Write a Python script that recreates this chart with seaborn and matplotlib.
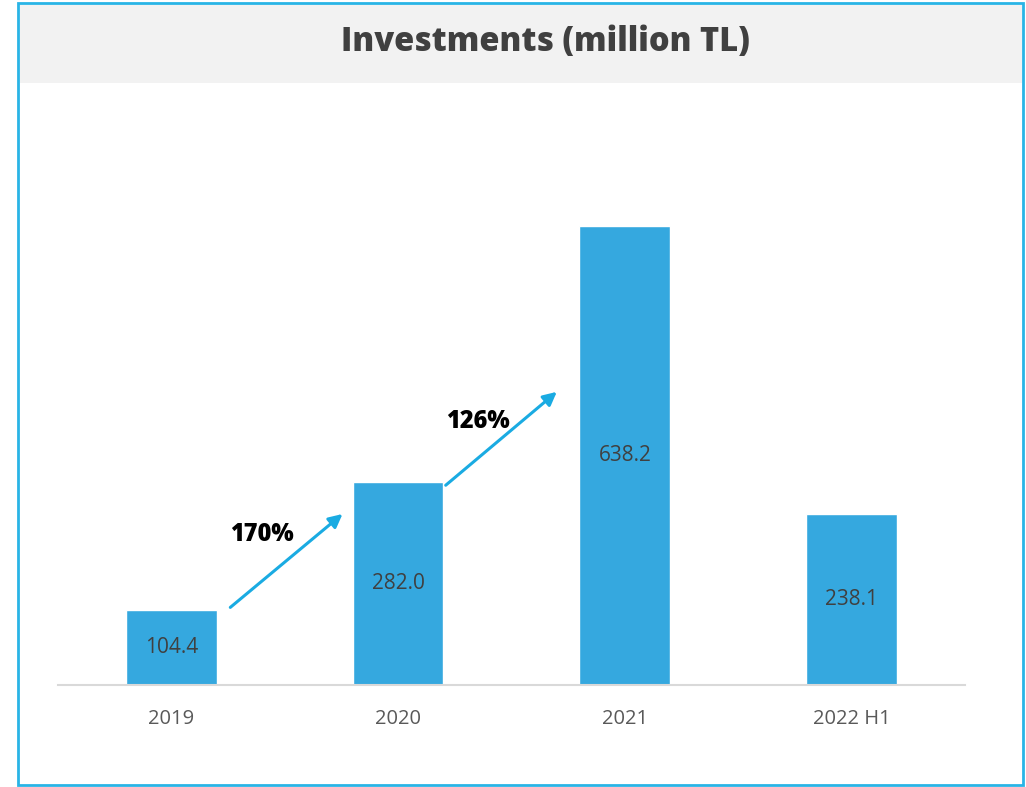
import numpy as np
import pandas as pd
import seaborn as sns
import matplotlib.pyplot as plt
from matplotlib.patches import Rectangle

sns.set_style("white")
plt.rcParams['font.family'] = ['Open Sans', 'DejaVu Sans']

years = ["2019", "2020", "2021", "2022 H1"]
values = [104.4, 282.0, 638.2, 238.1]
growth = ["170%", "126%"]

df = pd.DataFrame({"year": years, "value": values})

fig = plt.figure(figsize=(10.26, 7.87), dpi=100)
ax = fig.add_axes([0.0565, 0.1296, 0.884, 0.7304])

sns.barplot(data=df, x="year", y="value", color="#35a8df", saturation=1,
            width=0.4, ax=ax)

ax.set_xlim(-0.5, 3.5)
ax.set_ylim(0, 800)
ax.set_xlabel("")
ax.set_ylabel("")
ax.set_yticks([])
for s in ["top", "left", "right"]:
    ax.spines[s].set_visible(False)
ax.spines["bottom"].set_color("#d9d9d9")
ax.spines["bottom"].set_linewidth(1.5)
ax.tick_params(axis="x", length=0, labelsize=14.5, labelcolor="#595959", pad=17)

# value labels in the middle of the bars
for i, v in enumerate(values):
    ax.text(i, v / 2, f"{v:.1f}", ha="center", va="center",
            fontsize=15, color="#404040")

# growth arrows
arrows = [((0.26, 108), (0.755, 238)), ((1.21, 278), (1.70, 408))]
label_pos = [(0.40, 209), (1.35, 367)]
for (start, end), txt, pos in zip(arrows, growth, label_pos):
    ax.annotate("", xy=end, xytext=start,
                arrowprops=dict(arrowstyle="-|>,head_length=0.8,head_width=0.4",
                                color="#1aabe2", lw=2.2, shrinkA=0, shrinkB=0))
    ax.text(pos[0], pos[1], txt, ha="center", va="center", fontsize=17,
            fontweight="heavy", color="black")

# title band and border
fig.patches.append(Rectangle((20 / 1026, 1 - 83 / 787), 1002 / 1026, 78 / 787,
                             transform=fig.transFigure, facecolor="#f2f2f2",
                             edgecolor="none", zorder=0))
fig.patches.append(Rectangle((18 / 1026, 1 - 785 / 787), 1005 / 1026, 782 / 787,
                             transform=fig.transFigure, facecolor="none",
                             edgecolor="#29b4e6", lw=2, zorder=5))
fig.text(545 / 1026, 1 - 42 / 787, "Investments (million TL)", ha="center",
         va="center", fontsize=23.5, fontweight="heavy", color="#404040")

fig.savefig("out.png", dpi=100)
